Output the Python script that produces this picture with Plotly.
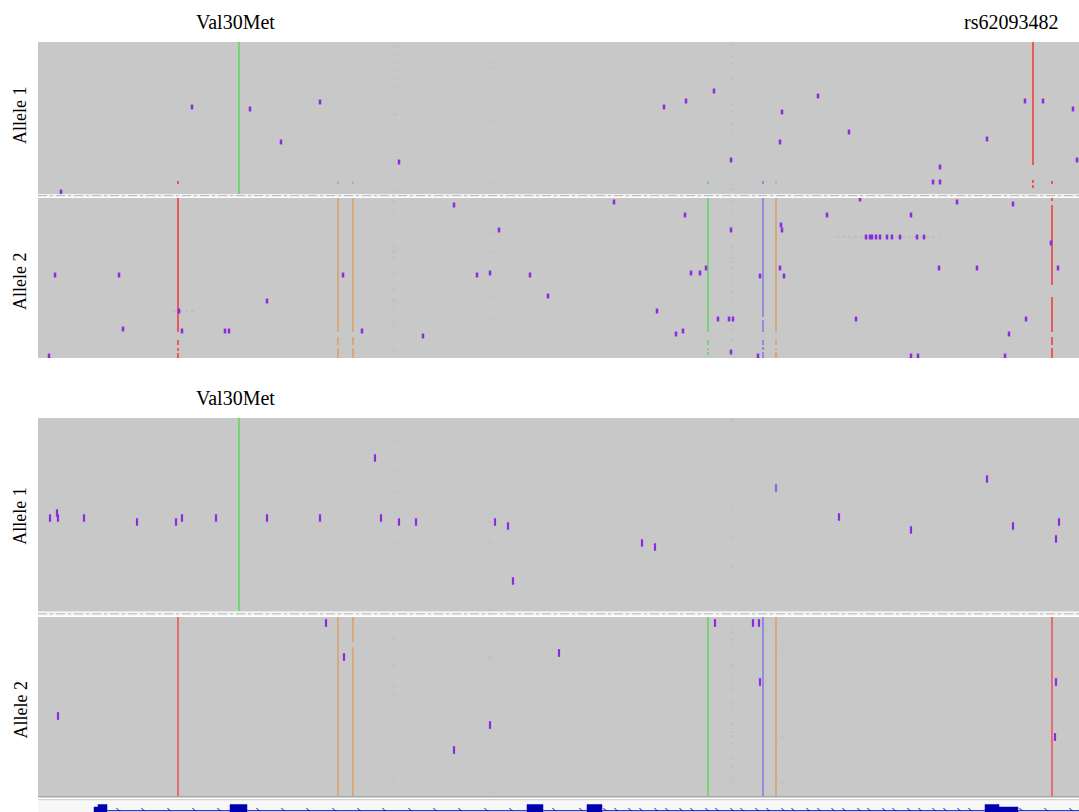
import plotly.graph_objects as go

W, H = 1079, 812

# ---------------------------------------------------------------
# Data: position along the region (x) and read row within a track (y)
# ---------------------------------------------------------------

# Panel A, allele 1 -- coloured mismatch columns (position, first row, last row)
a1_red = [(995, 0, 123), (995, 138, 141), (995, 143, 146), (140, 139, 142), (1014, 139, 142)]
a1_green = [(201, 0, 152), (670, 139, 142)]
a1_orange = [(300, 139, 142), (315, 139, 142), (738, 139, 142)]
a1_blue = [(725, 139, 142)]
a1_snv_x = [154, 212, 282, 243, 23, 361, 626, 648, 676, 780, 744, 742, 693, 811, 902, 895, 902, 949, 987, 1005, 1035, 1039]
a1_snv_y = [65, 67, 60, 100, 150, 120, 65, 59, 49, 54, 70, 100, 118, 90, 125, 140, 140, 97, 59, 59, 67, 118]
a1_faint_x = [357] * 9 + [453] * 6 + [694] * 12
a1_faint_y = [5, 13, 21, 29, 36, 44, 72, 73, 148, 21, 26, 35, 79, 102, 140,
              3, 14, 21, 37, 62, 70, 82, 89, 118, 126, 143, 148]

# Panel A, allele 2
a2_red = [(140, 0, 134), (140, 142, 147), (140, 150, 153), (140, 155, 160),
          (1014, 0, 3), (1014, 7, 87), (1014, 99, 134), (1014, 139, 147), (1014, 150, 160)]
a2_orange = [(300, 0, 134), (300, 139, 147), (300, 150, 160),
             (315, 0, 134), (315, 139, 147), (315, 150, 160),
             (738, 0, 134), (738, 142, 147), (738, 150, 152), (738, 154, 160)]
a2_green = [(670, 0, 134), (670, 142, 147), (670, 150, 152), (670, 154, 157)]
a2_blue = [(725, 0, 119), (725, 122, 134), (725, 142, 147), (725, 149, 152), (725, 154, 160)]
a2_snv_x = [17, 81, 305, 229, 141, 85, 144, 187, 191, 11,
            416, 576, 461, 439, 452, 492, 510, 619, 324, 385,
            822, 647, 789, 873, 919, 975, 693, 743, 744,
            828, 832, 834, 838, 842, 849, 854, 862, 879, 886,
            668, 653, 662, 722, 742, 746, 901, 939, 1013, 1020,
            680, 691, 695, 818, 988, 638, 645, 971, 693, 720, 873, 880, 967]
a2_snv_y = [77, 77, 77, 103, 113, 131, 133, 133, 133, 158,
            7, 4, 32, 77, 75, 77, 98, 113, 133, 138,
            1, 17, 17, 17, 4, 6, 32, 27, 32,
            39, 39, 39, 39, 39, 39, 39, 39, 39, 39,
            70, 75, 75, 78, 70, 78, 70, 70, 45, 70,
            121, 121, 121, 121, 121, 136, 133, 136, 154, 158, 158, 158, 158]
a2_faint_x = [356] * 14 + [453] * 4 + [694] * 20
a2_faint_y = [3, 13, 48, 52, 54, 59, 76, 91, 102, 104, 109, 124, 127, 152,
              36, 54, 100, 120,
              0, 4, 13, 26, 29, 37, 49, 55, 60, 64, 70, 79, 87, 94, 103, 117, 122, 127, 132, 142]
# partially covered reads drawn as dotted gray runs (row, start, end)
a2_gap_reads = [(39, 798, 902), (113, 135, 159)]

# Panel B, allele 1
b1_green = [(201, 0, 193)]
b1_snv_x = [12, 19, 20, 46, 99, 138, 144, 178, 229, 282, 337, 343, 361, 378, 457,
            470, 475, 604, 617, 801, 873, 949, 975, 1018, 1021]
b1_snv_y = [100, 95, 100, 100, 104, 104, 100, 100, 100, 100, 40, 100, 104, 104, 104,
            108, 163, 125, 129, 99, 112, 61, 108, 121, 104]
b1_alt_x = [738]
b1_alt_y = [70]
b1_faint_x = [357] * 7 + [452] * 4 + [694] * 5
b1_faint_y = [6, 23, 53, 74, 95, 124, 158, 6, 104, 124, 192, 2, 78, 89, 120, 149]

# Panel B, allele 2
b2_red = [(140, 0, 179), (1014, 0, 179)]
b2_orange = [(300, 0, 179), (315, 0, 25), (315, 30, 179), (738, 0, 179)]
b2_green = [(670, 0, 179)]
b2_blue = [(725, 0, 179)]
b2_snv_x = [288, 306, 521, 20, 452, 416, 677, 715, 721, 722, 1018, 1017]
b2_snv_y = [6, 40, 36, 99, 108, 133, 6, 6, 6, 65, 65, 120]
b2_faint_x = [694] * 20 + [744] * 3 + [356] * 6 + [452] * 3
b2_faint_y = [10, 16, 22, 26, 48, 51, 60, 66, 73, 85, 92, 107, 115, 119, 126, 141, 149, 151, 161, 164,
              31, 120, 166, 22, 48, 69, 77, 111, 162, 40, 43, 175]

# Gene model: exons (start, end, is_utr), transcript span, strand chevrons
exons = [(56, 60, True), (60, 69, False), (192, 209, False), (489, 505, False),
         (549, 564, False), (947, 961, False), (961, 980, True)]
transcript = (56, 1041)
strand_marks = [80, 105, 131, 156, 181, 220, 245, 270, 296, 321, 346, 372, 397, 422, 448, 473,
                516, 543, 567, 578, 592, 603, 618, 629, 643, 654, 669, 679, 694, 704, 719, 730,
                745, 755, 770, 781, 795, 806, 821, 831, 846, 856, 871, 882, 896, 907, 921, 932,
                983, 1008, 1033]

# Text labels
labels = ["Val30Met", "rs62093482"]
label_pos = [197, 973]

# ---------------------------------------------------------------
# Styling
# ---------------------------------------------------------------
PURPLE = "#8a2be2"
RED = "#ee4040"
GREEN = "#5fd85f"
ORANGE = "#d8a26e"
BLUE = "#7f7fe0"
FAINT = "#bcbcbc"
TRACK_BG = "#c8c8c8"
GENE = "#0000b0"
SERIF = "Liberation Serif, Times New Roman, serif"

# track name -> (y axis, top px, bottom px)
tracks = {
    "a1": ("y", 42, 194),
    "a2": ("y2", 198, 358),
    "b1": ("y3", 418, 611.5),
    "b2": ("y4", 617, 796),
    "gene": ("y5", 800, 812),
}

fig = go.Figure()


def columns(segs, color, yax, width=1.6):
    xs, ys = [], []
    for p, s, e in segs:
        xs += [p, p, None]
        ys += [s, e, None]
    fig.add_trace(go.Scatter(x=xs, y=ys, yaxis=yax, mode="lines",
                             line=dict(color=color, width=width),
                             hoverinfo="skip", showlegend=False))


def points(xs, ys, yax, color, size, width):
    fig.add_trace(go.Scatter(x=xs, y=ys, yaxis=yax, mode="markers",
                             marker=dict(symbol="line-ns", size=size,
                                         line=dict(color=color, width=width)),
                             hoverinfo="skip", showlegend=False))


def faint(xs, ys, yax):
    fig.add_trace(go.Scatter(x=xs, y=ys, yaxis=yax, mode="markers",
                             marker=dict(symbol="line-ew", size=2.5,
                                         line=dict(color=FAINT, width=1)),
                             hoverinfo="skip", showlegend=False))


# Panel A
faint(a1_faint_x, a1_faint_y, "y")
columns(a1_green, GREEN, "y")
columns(a1_red, RED, "y")
columns(a1_orange, ORANGE, "y")
columns(a1_blue, BLUE, "y")
points(a1_snv_x, a1_snv_y, "y", PURPLE, 3.5, 2.5)

faint(a2_faint_x, a2_faint_y, "y2")
for row, s, e in a2_gap_reads:
    fig.add_trace(go.Scatter(x=[s, e], y=[row, row], yaxis="y2", mode="lines",
                             line=dict(color="#b4b4b4", width=1, dash="dot"),
                             hoverinfo="skip", showlegend=False))
columns(a2_red, RED, "y2")
columns(a2_orange, ORANGE, "y2")
columns(a2_green, GREEN, "y2")
columns(a2_blue, BLUE, "y2")
points(a2_snv_x, a2_snv_y, "y2", PURPLE, 3.5, 2.5)

# Panel B
faint(b1_faint_x, b1_faint_y, "y3")
columns(b1_green, GREEN, "y3")
points(b1_snv_x, b1_snv_y, "y3", PURPLE, 5.5, 2.2)
points(b1_alt_x, b1_alt_y, "y3", "#7070dd", 5.5, 2.2)

faint(b2_faint_x, b2_faint_y, "y4")
columns(b2_red, RED, "y4", 1.3)
columns(b2_orange, ORANGE, "y4")
columns(b2_green, GREEN, "y4")
columns(b2_blue, BLUE, "y4")
points(b2_snv_x, b2_snv_y, "y4", PURPLE, 5.5, 2.2)

# Gene model
fig.add_trace(go.Scatter(x=list(transcript), y=[10.6, 10.6], yaxis="y5", mode="lines",
                         line=dict(color="#3a3ad0", width=1.2), hoverinfo="skip", showlegend=False))
fig.add_trace(go.Scatter(x=strand_marks, y=[9.6] * len(strand_marks), yaxis="y5", mode="markers",
                         marker=dict(symbol="line-nw", size=3, line=dict(color=GENE, width=1)),
                         hoverinfo="skip", showlegend=False))
for s, e, utr in exons:
    top = 7 if utr else 4.5
    fig.add_trace(go.Scatter(x=[s, e, e, s, s], y=[top, top, 12, 12, top], yaxis="y5",
                             mode="lines", fill="toself", fillcolor=GENE,
                             line=dict(color=GENE, width=0.5), hoverinfo="skip", showlegend=False))

# ---------------------------------------------------------------
# Layout
# ---------------------------------------------------------------
layout = dict(
    width=W, height=H,
    margin=dict(l=0, r=0, t=0, b=0),
    paper_bgcolor="white",
    plot_bgcolor="rgba(0,0,0,0)",
    showlegend=False,
    xaxis=dict(domain=[38 / W, 1], range=[0, 1041], visible=False, fixedrange=True),
)
shapes = []
for name, (yax, top, bot) in tracks.items():
    key = "yaxis" if yax == "y" else "yaxis" + yax[1:]
    layout[key] = dict(domain=[1 - bot / H, 1 - top / H], range=[bot - top, 0],
                       visible=False, anchor="x", fixedrange=True)
    shapes.append(dict(type="rect", xref="x domain", yref=yax + " domain",
                       x0=0, x1=1, y0=0, y1=1, layer="below", line=dict(width=0),
                       fillcolor=TRACK_BG if name != "gene" else "#f7f7f7"))

# allele separators (dash-dot) and the ruler under panel B
for ypx in (195.6, 613.8):
    shapes.append(dict(type="rect", xref="paper", yref="paper", x0=38 / W, x1=1,
                       y0=1 - (ypx + 1.6) / H, y1=1 - (ypx - 1.6) / H,
                       fillcolor="#f2f2f2", line=dict(width=0), layer="below"))
    shapes.append(dict(type="line", xref="paper", yref="paper", x0=38 / W, x1=1,
                       y0=1 - ypx / H, y1=1 - ypx / H,
                       line=dict(color="#b8b8b8", width=1, dash="dashdot")))
shapes.append(dict(type="line", xref="paper", yref="paper", x0=38 / W, x1=1,
                   y0=1 - 796.8 / H, y1=1 - 796.8 / H, line=dict(color="#a8a8a8", width=1.6)))
shapes.append(dict(type="line", xref="paper", yref="paper", x0=38 / W, x1=1,
                   y0=1 - 799.6 / H, y1=1 - 799.6 / H, line=dict(color="#d2d2d2", width=1.4)))
layout["shapes"] = shapes

ann = []
# variant titles over each panel
for text, pos in zip(labels, label_pos):
    ann.append(dict(text=text, x=pos, xref="x", y=1 - 22 / H, yref="paper",
                    showarrow=False, font=dict(family=SERIF, size=20, color="black"),
                    xanchor="center", yanchor="middle"))
ann.append(dict(text=labels[0], x=label_pos[0], xref="x", y=1 - 398 / H, yref="paper",
                showarrow=False, font=dict(family=SERIF, size=20, color="black"),
                xanchor="center", yanchor="middle"))
# allele track labels
for name, text, off in (("a1", "Allele 1", -2), ("a2", "Allele 2", 4),
                        ("b1", "Allele 1", 2), ("b2", "Allele 2", 4)):
    yax, top, bot = tracks[name]
    ann.append(dict(text=text, x=20 / W, xref="paper", y=1 - ((top + bot) / 2 + off) / H,
                    yref="paper", textangle=-90, showarrow=False,
                    font=dict(family=SERIF, size=18, color="black"),
                    xanchor="center", yanchor="middle"))
layout["annotations"] = ann

fig.update_layout(**layout)
fig.write_html("out.html", config={"displayModeBar": False})
